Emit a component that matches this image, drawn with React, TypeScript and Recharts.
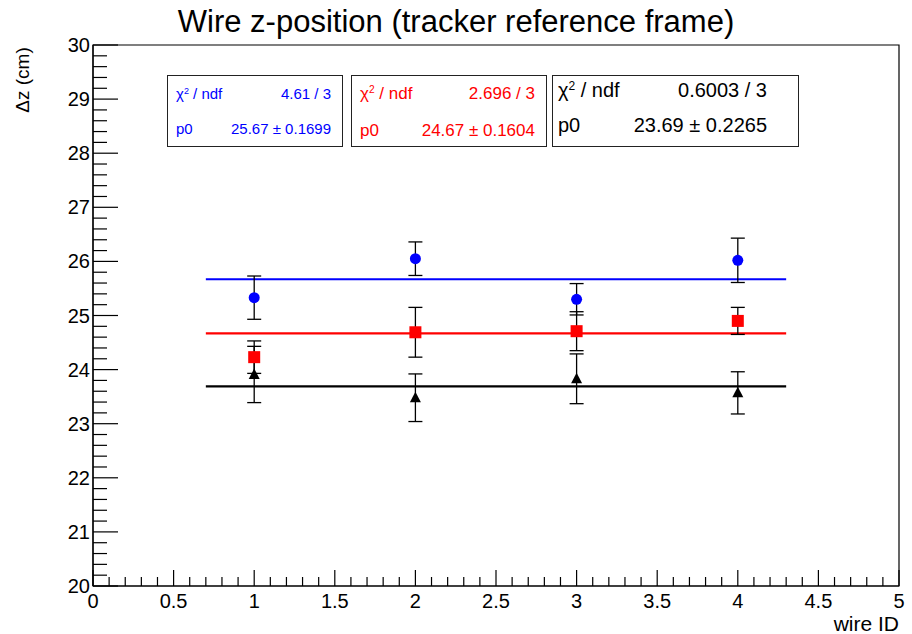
import React from "react";
import {
  ComposedChart,
  Scatter,
  ErrorBar,
  XAxis,
  YAxis,
  ReferenceLine,
  ReferenceArea,
} from "recharts";

// measured values per wire
const wireIds = [1, 2, 3, 4];
const blueDz = [25.33, 26.05, 25.3, 26.02];
const blueErr = [0.4, 0.31, 0.29, 0.41];
const redDz = [24.23, 24.69, 24.71, 24.9];
const redErr = [0.3, 0.46, 0.36, 0.25];
const blackDz = [23.91, 23.48, 23.83, 23.57];
const blackErr = [0.52, 0.44, 0.46, 0.39];

// fit results (pol0)
const fitRange = [0.7, 4.3];
const fitP0 = [25.67, 24.67, 23.69];
const fitColors = ["#0000ff", "#ff0000", "#000000"];
const fitChi2 = ["4.61 / 3", "2.696 / 3", "0.6003 / 3"];
const fitP0Text = ["25.67 ± 0.1699", "24.67 ± 0.1604", "23.69 ± 0.2265"];

const xMajorLabels = ["0", "0.5", "1", "1.5", "2", "2.5", "3", "3.5", "4", "4.5", "5"];
const yMajorLabels = ["20", "21", "22", "23", "24", "25", "26", "27", "28", "29", "30"];

const W = 912;
const H = 634;
const PLOT_LEFT = 93;
const PLOT_BOTTOM = 586;
const FONT = "'Liberation Sans', Arial, Helvetica, sans-serif";

const xTicks = Array.from({ length: 51 }, (_, i) => Number((i * 0.1).toFixed(1)));
const yTicks = Array.from({ length: 51 }, (_, i) => Number((20 + i * 0.2).toFixed(1)));

const toRows = (ys: number[], errs: number[]) =>
  wireIds.map((x, i) => ({ x, y: ys[i], err: errs[i] }));

const blueData = toRows(blueDz, blueErr);
const redData = toRows(redDz, redErr);
const blackData = toRows(blackDz, blackErr);

const XTick = (props: any) => {
  const { x, payload } = props;
  const v = payload.value as number;
  const major = Math.abs(v * 2 - Math.round(v * 2)) < 1e-6;
  return (
    <g>
      <line x1={x} x2={x} y1={PLOT_BOTTOM} y2={PLOT_BOTTOM - (major ? 16 : 9)} stroke="#000" strokeWidth={1.2} />
      {major && (
        <text x={x} y={PLOT_BOTTOM + 22} textAnchor="middle" fontSize={20} fontFamily={FONT} fill="#000">
          {xMajorLabels[Math.round(v * 2)]}
        </text>
      )}
    </g>
  );
};

const YTick = (props: any) => {
  const { y, payload } = props;
  const v = payload.value as number;
  const major = Math.abs(v - Math.round(v)) < 1e-6;
  return (
    <g>
      <line x1={PLOT_LEFT} x2={PLOT_LEFT + (major ? 25 : 14)} y1={y} y2={y} stroke="#000" strokeWidth={1.2} />
      {major && (
        <text x={PLOT_LEFT - 3} y={y + 7} textAnchor="end" fontSize={20} fontFamily={FONT} fill="#000">
          {yMajorLabels[Math.round(v) - 20]}
        </text>
      )}
    </g>
  );
};

const CircleMark = (p: any) => <circle cx={p.cx} cy={p.cy} r={5.5} fill="#0000ff" />;
const SquareMark = (p: any) => (
  <rect x={p.cx - 6} y={p.cy - 6} width={12} height={12} fill="#ff0000" />
);
const TriangleMark = (p: any) => (
  <polygon
    points={`${p.cx},${p.cy - 6} ${p.cx - 5.5},${p.cy + 4.5} ${p.cx + 5.5},${p.cy + 4.5}`}
    fill="#000"
  />
);

const boxes = [
  { left: 167, width: 176, fs: 15, padL: 8, padR: 11, top1: 10, top2: 45 },
  { left: 351, width: 196, fs: 17, padL: 8, padR: 11, top1: 9, top2: 46 },
  { left: 552, width: 247, fs: 20, padL: 5, padR: 31, top1: 4, top2: 39 },
];

const StatBox = ({ i }: { i: number }) => {
  const b = boxes[i];
  const row: React.CSSProperties = {
    position: "absolute",
    left: b.padL,
    right: b.padR,
    display: "flex",
    justifyContent: "space-between",
    lineHeight: 1,
  };
  return (
    <div
      style={{
        position: "absolute",
        left: b.left,
        top: 75,
        width: b.width,
        height: 72,
        border: "1.5px solid #222",
        boxSizing: "border-box",
        background: "#fff",
        color: fitColors[i],
        fontSize: b.fs,
        fontFamily: FONT,
      }}
    >
      <div style={{ ...row, top: b.top1 }}>
        <span>
          χ<sup style={{ fontSize: "0.6em", verticalAlign: "0.6em", lineHeight: 0 }}>2</sup> / ndf
        </span>
        <span>{fitChi2[i]}</span>
      </div>
      <div style={{ ...row, top: b.top2 }}>
        <span>p0</span>
        <span>{fitP0Text[i]}</span>
      </div>
    </div>
  );
};

export default function App() {
  return (
    <div style={{ position: "relative", width: W, height: H, background: "#fff", fontFamily: FONT }}>
      <style>{`body{margin:0}`}</style>
      <ComposedChart
        width={W}
        height={H}
        margin={{ top: 45, right: 13, left: 33, bottom: 8 }}
      >
        <XAxis
          type="number"
          dataKey="x"
          domain={[0, 5]}
          ticks={xTicks}
          interval={0}
          tickSize={0}
          tickMargin={0}
          tickLine={false}
          tick={<XTick />}
          height={40}
          axisLine={{ stroke: "#000", strokeWidth: 1.2 }}
          allowDataOverflow
        />
        <YAxis
          type="number"
          dataKey="y"
          domain={[20, 30]}
          ticks={yTicks}
          interval={0}
          tickSize={0}
          tickMargin={0}
          tickLine={false}
          tick={<YTick />}
          width={60}
          axisLine={{ stroke: "#000", strokeWidth: 1.2 }}
          allowDataOverflow
        />
        <ReferenceArea x1={0} x2={5} y1={20} y2={30} fill="none" stroke="#000" strokeWidth={1.2} />
        {fitP0.map((p, i) => (
          <ReferenceLine
            key={`fit-${i}`}
            segment={[
              { x: fitRange[0], y: p },
              { x: fitRange[1], y: p },
            ]}
            stroke={fitColors[i]}
            strokeWidth={2.2}
          />
        ))}
        <Scatter data={blackData} shape={<TriangleMark />} isAnimationActive={false}>
          <ErrorBar dataKey="err" direction="y" width={7} stroke="#000" strokeWidth={1.3} />
        </Scatter>
        <Scatter data={redData} shape={<SquareMark />} isAnimationActive={false}>
          <ErrorBar dataKey="err" direction="y" width={7} stroke="#000" strokeWidth={1.3} />
        </Scatter>
        <Scatter data={blueData} shape={<CircleMark />} isAnimationActive={false}>
          <ErrorBar dataKey="err" direction="y" width={7} stroke="#000" strokeWidth={1.3} />
        </Scatter>
      </ComposedChart>

      <div
        style={{
          position: "absolute",
          left: 0,
          width: 912,
          top: 4,
          textAlign: "center",
          fontSize: 31,
          lineHeight: "36px",
        }}
      >
        Wire z-position (tracker reference frame)
      </div>
      <div
        style={{
          position: "absolute",
          left: 23,
          top: 80,
          transform: "translate(-50%, -50%) rotate(-90deg)",
          fontSize: 19,
          whiteSpace: "nowrap",
        }}
      >
        Δz (cm)
      </div>
      <div
        style={{
          position: "absolute",
          right: 13,
          top: 612,
          fontSize: 21,
          whiteSpace: "nowrap",
        }}
      >
        wire ID
      </div>
      {boxes.map((_, i) => (
        <StatBox key={i} i={i} />
      ))}
    </div>
  );
}
